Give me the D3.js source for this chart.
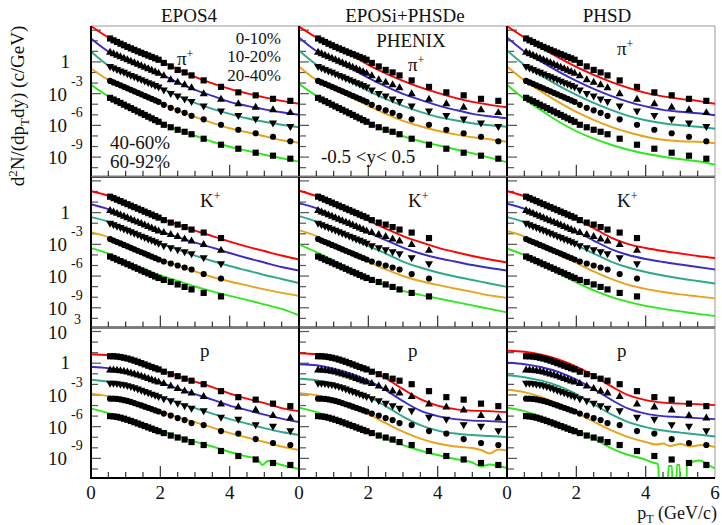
<!DOCTYPE html>
<html>
<head>
<meta charset="utf-8">
<script src="https://cdn.jsdelivr.net/npm/d3@7"></script>
<style>
  body { margin: 0; background: #fff; }
  text { font-family: "Liberation Serif", "Times New Roman", serif; font-size: 19px; fill: #111; }
</style>
</head>
<body>
<svg width="722" height="525"></svg>
<script>
// models (columns), particles (rows), centrality classes
var models = ["EPOS4", "EPOSi+PHSDe", "PHSD"];
var centralities = ["0-10%", "10-20%", "20-40%", "40-60%", "60-92%"];
var colors = ["#ff0000", "#3a2cc8", "#2ea88a", "#e9a21a", "#2ee81c"];

// PHENIX data, pT bins
var ptPi = [0.55, 0.65, 0.75, 0.85, 0.95, 1.05, 1.15, 1.25, 1.35, 1.45, 1.55, 1.65, 1.75, 1.85, 1.95,
            2.1, 2.3, 2.5, 2.7, 2.9, 3.25, 3.75, 4.25, 4.75, 5.25, 5.75];
var ptK = [0.55, 0.65, 0.75, 0.85, 0.95, 1.05, 1.15, 1.25, 1.35, 1.45, 1.55, 1.65, 1.75, 1.85, 1.95,
           2.1, 2.3, 2.5, 2.7, 2.9, 3.25, 3.75];
var ptP = ptPi;

var piData = [
  [165, 111, 77, 53, 37.6, 26.6, 19.2, 13.9, 10, 7.38, 5.44, 4.02, 2.96, 2.19, 1.61, 0.805, 0.376, 0.176, 0.102, 0.0532, 0.018, 4.39e-3, 1.33e-3, 6.92e-4, 3.23e-4, 2.09e-4],
  [7.87, 5.69, 4.10, 2.96, 2.14, 1.55, 1.11, 0.805, 0.581, 0.420, 0.303, 0.219, 0.158, 0.114, 0.0822, 0.0478, 0.0200, 0.0116, 6.76e-3, 3.52e-3, 9.57e-4, 2.90e-4, 1.09e-4, 5.11e-5, 2.96e-5, 1.55e-5],
  [0.376, 0.272, 0.200, 0.145, 0.107, 0.0771, 0.0556, 0.0410, 0.0296, 0.0219, 0.0158, 0.0114, 8.41e-3, 6.07e-3, 4.39e-3, 2.28e-3, 1.07e-3, 6.19e-4, 3.23e-4, 1.88e-4, 7.06e-5, 2.38e-5, 8.97e-6, 4.20e-6, 1.76e-6, 8.22e-7],
  [0.0161, 0.0116, 8.41e-3, 6.07e-3, 4.39e-3, 3.16e-3, 2.28e-3, 1.65e-3, 1.19e-3, 8.59e-4, 6.19e-4, 4.48e-4, 3.23e-4, 2.33e-4, 1.68e-4, 8.77e-5, 4.57e-5, 2.66e-5, 1.55e-5, 8.05e-6, 3.76e-6, 1.14e-6, 3.85e-7, 1.80e-7, 8.41e-8, 3.16e-8],
  [4.02e-4, 2.77e-4, 1.92e-4, 1.33e-4, 8.97e-5, 6.19e-5, 4.28e-5, 2.96e-5, 2.05e-5, 1.42e-5, 9.79e-6, 6.62e-6, 4.57e-6, 3.16e-6, 2.19e-6, 1.14e-6, 6.62e-7, 3.85e-7, 2.49e-7, 1.45e-7, 5.45e-8, 1.48e-8, 6.19e-9, 2.60e-9, 1.36e-9, 7.06e-10]
];
var kData = [
  [32.3, 23.3, 16.8, 12.2, 8.77, 6.34, 4.57, 3.30, 2.38, 1.72, 1.24, 0.897, 0.647, 0.468, 0.337, 0.196, 0.114, 0.0738, 0.0429, 0.0249, 0.0130, 3.93e-3],
  [1.55, 1.11, 0.822, 0.594, 0.429, 0.316, 0.228, 0.168, 0.122, 0.0897, 0.0647, 0.0468, 0.0345, 0.0249, 0.0180, 0.0130, 8.41e-3, 5.45e-3, 3.16e-3, 2.05e-3, 9.57e-4, 2.60e-4],
  [0.102, 0.0753, 0.0545, 0.0402, 0.0296, 0.0219, 0.0158, 0.0116, 8.59e-3, 6.19e-3, 4.57e-3, 3.37e-3, 2.49e-3, 1.80e-3, 1.33e-3, 7.71e-4, 4.99e-4, 3.23e-4, 2.09e-4, 1.36e-4, 5.69e-5, 1.55e-5],
  [3.16e-3, 2.28e-3, 1.68e-3, 1.22e-3, 8.77e-4, 6.47e-4, 4.68e-4, 3.37e-4, 2.49e-4, 1.80e-4, 1.33e-4, 9.57e-5, 6.92e-5, 5.11e-5, 3.68e-5, 2.38e-5, 1.55e-5, 1.0e-5, 6.47e-6, 4.20e-6, 1.58e-6, 5.94e-7],
  [7.06e-5, 5.11e-5, 3.61e-5, 2.60e-5, 1.88e-5, 1.33e-5, 9.57e-6, 6.76e-6, 4.89e-6, 3.45e-6, 2.49e-6, 1.80e-6, 1.27e-6, 9.16e-7, 6.62e-7, 4.29e-7, 2.77e-7, 1.61e-7, 9.38e-8, 5.45e-8, 2.55e-8, 1.19e-8]
];
var pData = [
  [4.57, 4.57, 4.29, 3.85, 3.30, 2.77, 2.23, 1.76, 1.36, 1.02, 0.771, 0.581, 0.439, 0.337, 0.260, 0.158, 0.0917, 0.0594, 0.0345, 0.0223, 0.0104, 2.28e-3, 6.19e-4, 3.61e-4, 1.51e-4, 8.77e-5],
  [0.219, 0.219, 0.209, 0.192, 0.168, 0.142, 0.116, 0.0938, 0.0738, 0.0581, 0.0448, 0.0345, 0.0266, 0.0205, 0.0161, 0.0116, 6.76e-3, 3.93e-3, 2.28e-3, 1.48e-3, 6.92e-4, 1.36e-4, 7.06e-5, 3.68e-5, 1.11e-5, 6.47e-6],
  [0.0130, 0.0130, 0.0122, 0.0109, 9.38e-3, 7.87e-3, 6.34e-3, 4.99e-3, 3.85e-3, 2.90e-3, 2.19e-3, 1.65e-3, 1.24e-3, 9.57e-4, 7.21e-4, 4.48e-4, 2.90e-4, 1.68e-4, 9.79e-5, 5.69e-5, 3.30e-5, 8.05e-6, 5.21e-6, 1.58e-6, 1.14e-6, 4.29e-7],
  [4.48e-4, 4.48e-4, 4.20e-4, 3.76e-4, 3.23e-4, 2.72e-4, 2.19e-4, 1.72e-4, 1.33e-4, 1.02e-4, 7.87e-5, 6.07e-5, 4.57e-5, 3.52e-5, 2.72e-5, 1.72e-5, 1.11e-5, 6.47e-6, 4.20e-6, 2.19e-6, 1.42e-6, 3.85e-7, 2.23e-7, 6.76e-8, 2.84e-8, 1.84e-8],
  [1.0e-5, 9.38e-6, 8.41e-6, 7.06e-6, 5.69e-6, 4.48e-6, 3.45e-6, 2.66e-6, 2.00e-6, 1.51e-6, 1.14e-6, 8.59e-7, 6.47e-7, 4.89e-7, 3.68e-7, 2.49e-7, 1.45e-7, 9.38e-8, 6.07e-8, 3.52e-8, 1.84e-8, 4.99e-9, 1.68e-9, 7.87e-10, 3.68e-10, 2.38e-10]
];

// model curves, pT grids
var ptGrid = [0, 0.5, 1, 1.5, 2, 2.5, 3, 3.5, 4, 4.5, 5, 5.5, 6];
var ptGridA = [0, 0.5, 1, 1.5, 2, 2.5, 3, 3.5, 4, 4.5, 4.8, 4.95, 5.1, 5.5, 6];
var ptGridB = [0, 0.5, 1, 1.5, 2, 2.5, 3, 3.5, 4, 4.5, 5, 5.25, 5.5, 5.75, 6];
var ptGridC = [0, 0.5, 1, 1.5, 2, 2.5, 3, 3.5, 4, 4.3, 4.5, 4.7, 5, 5.3, 5.6, 6];
var ptGridD = [0, 0.5, 1, 1.5, 2, 2.5, 3, 3.5, 3.9, 4.2, 4.36, 4.4, 4.62, 4.66, 4.76, 4.78, 4.88, 4.9, 4.98, 5.0, 5.17, 5.19, 5.38, 5.57, 5.76, 6];

var piEPOS4 = [
  [2400, 205, 32.3, 7.06, 1.24, 0.196, 0.0385, 9.38e-3, 2.84e-3, 1.07e-3, 4.48e-4, 2.09e-4, 1.09e-4],
  [165, 9.79, 1.72, 0.376, 0.0738, 0.0116, 2.28e-3, 6.19e-4, 1.68e-4, 7.06e-5, 3.30e-5, 1.72e-5, 1.0e-5],
  [9.79, 0.468, 0.0917, 0.0200, 3.93e-3, 6.19e-4, 1.36e-4, 3.68e-5, 1.24e-5, 4.68e-6, 2.19e-6, 1.14e-6, 6.62e-7],
  [0.244, 0.0200, 3.52e-3, 7.71e-4, 1.51e-4, 2.66e-5, 6.47e-6, 1.76e-6, 5.32e-7, 2.23e-7, 9.38e-8, 3.93e-8, 2.28e-8],
  [6.76e-3, 5.56e-4, 7.06e-5, 1.24e-5, 1.96e-6, 3.85e-7, 1.04e-7, 2.84e-8, 9.57e-9, 4.02e-9, 1.68e-9, 7.87e-10, 3.68e-10]
];
var piEPOSi = [
  [2230, 205, 29.0, 4.57, 0.521, 0.0822, 0.0161, 3.93e-3, 1.19e-3, 4.02e-4, 1.68e-4, 8.77e-5, 5.11e-5],
  [205, 10.9, 1.55, 0.244, 0.0310, 4.89e-3, 9.57e-4, 2.60e-4, 7.87e-5, 2.96e-5, 1.24e-5, 7.21e-6, 4.68e-6],
  [12.2, 0.581, 0.0822, 0.0130, 1.84e-3, 3.23e-4, 7.06e-5, 1.92e-5, 6.47e-6, 3.03e-6, 1.58e-6, 1.02e-6, 7.38e-7],
  [0.376, 0.0200, 2.84e-3, 4.48e-4, 7.06e-5, 1.24e-5, 2.72e-6, 8.22e-7, 3.10e-7, 1.45e-7, 7.53e-8, 4.89e-8, 2.84e-8],
  [8.41e-3, 6.19e-4, 7.06e-5, 1.11e-5, 1.76e-6, 3.45e-7, 9.38e-8, 3.16e-8, 1.33e-8, 5.56e-9, 2.33e-9, 8.77e-10, 3.30e-10]
];
var piPHSD = [
  [2400, 205, 20.9, 2.38, 0.337, 0.0594, 0.0130, 3.52e-3, 1.19e-3, 5.56e-4, 3.23e-4, 2.09e-4, 1.09e-4],
  [205, 9.79, 1.0, 0.114, 0.0161, 2.84e-3, 6.19e-4, 1.68e-4, 6.34e-5, 2.96e-5, 1.92e-5, 1.39e-5, 8.97e-6],
  [12.2, 0.521, 0.0478, 5.45e-3, 7.71e-4, 1.36e-4, 2.96e-5, 8.05e-6, 3.03e-6, 1.58e-6, 1.02e-6, 7.38e-7, 4.78e-7],
  [0.376, 0.0180, 1.48e-3, 1.51e-4, 1.92e-5, 3.37e-6, 7.38e-7, 2.23e-7, 8.41e-8, 4.39e-8, 3.16e-8, 2.84e-8, 2.05e-8],
  [6.76e-3, 3.23e-4, 2.38e-5, 2.19e-6, 2.77e-7, 5.45e-8, 1.48e-8, 4.99e-9, 2.09e-9, 1.09e-9, 6.34e-10, 4.10e-10, 1.92e-10]
];

var kEPOS4 = [
  [107, 40.2, 7.87, 1.55, 0.303, 0.0738, 0.0200, 6.07e-3, 1.84e-3, 6.19e-4, 2.33e-4, 8.77e-5, 3.68e-5],
  [6.34, 2.14, 0.420, 0.0822, 0.0180, 4.89e-3, 1.48e-3, 4.99e-4, 1.51e-4, 5.11e-5, 1.92e-5, 7.21e-6, 3.37e-6],
  [0.376, 0.142, 0.0310, 6.07e-3, 1.19e-3, 3.23e-4, 8.77e-5, 2.66e-5, 8.97e-6, 3.37e-6, 1.27e-6, 5.32e-7, 2.23e-7],
  [0.0145, 4.89e-3, 9.57e-4, 1.88e-4, 4.10e-5, 1.0e-5, 2.72e-6, 8.22e-7, 3.10e-7, 1.30e-7, 5.45e-8, 2.55e-8, 1.33e-8],
  [4.48e-4, 1.36e-4, 2.38e-5, 5.21e-6, 1.14e-6, 3.45e-7, 1.04e-7, 3.52e-8, 1.33e-8, 5.56e-9, 2.09e-9, 7.87e-10, 1.92e-10]
];
var kEPOSi = [
  [119, 36.1, 6.34, 1.11, 0.176, 0.0310, 6.07e-3, 1.65e-3, 4.99e-4, 1.88e-4, 7.87e-5, 3.68e-5, 1.92e-5],
  [7.87, 2.66, 0.468, 0.0738, 0.0130, 2.55e-3, 4.99e-4, 1.36e-4, 5.11e-5, 2.38e-5, 1.11e-5, 5.81e-6, 3.37e-6],
  [0.468, 0.142, 0.0249, 3.93e-3, 6.92e-4, 1.36e-4, 2.38e-5, 6.47e-6, 2.19e-6, 9.16e-7, 4.29e-7, 2.00e-7, 9.38e-8],
  [0.0223, 6.07e-3, 9.57e-4, 1.36e-4, 2.14e-5, 4.20e-6, 1.02e-6, 3.45e-7, 1.45e-7, 6.76e-8, 3.16e-8, 1.48e-8, 8.59e-9],
  [9.57e-4, 1.88e-4, 2.96e-5, 4.20e-6, 5.94e-7, 1.30e-7, 3.93e-8, 1.65e-8, 7.71e-9, 3.61e-9, 1.68e-9, 7.87e-10, 3.68e-10]
];
var kPHSD = [
  [107, 36.1, 7.06, 1.39, 0.244, 0.0345, 4.39e-3, 1.07e-3, 4.48e-4, 2.33e-4, 1.36e-4, 7.87e-5, 5.11e-5],
  [7.06, 2.38, 0.468, 0.0917, 0.0161, 2.28e-3, 3.61e-4, 9.79e-5, 4.10e-5, 2.14e-5, 1.24e-5, 7.21e-6, 4.20e-6],
  [0.376, 0.127, 0.0249, 4.89e-3, 8.59e-4, 1.36e-4, 2.38e-5, 6.47e-6, 2.44e-6, 1.14e-6, 5.94e-7, 3.45e-7, 2.00e-7],
  [0.0180, 5.45e-3, 7.71e-4, 1.09e-4, 1.72e-5, 2.72e-6, 5.32e-7, 1.45e-7, 6.07e-8, 3.16e-8, 1.84e-8, 1.19e-8, 7.71e-9],
  [4.02e-4, 9.79e-5, 1.39e-5, 1.76e-6, 2.49e-7, 4.39e-8, 1.07e-8, 3.61e-9, 1.51e-9, 7.87e-10, 4.57e-10, 2.66e-10, 1.72e-10]
];

var pEPOS4 = [
  [7.06, 5.69, 2.96, 1.11, 0.244, 0.0594, 0.0180, 5.45e-3, 1.33e-3, 4.48e-4, 1.68e-4, 5.69e-5, 2.96e-5],
  [0.468, 0.337, 0.176, 0.0662, 0.0161, 3.93e-3, 1.19e-3, 3.61e-4, 9.79e-5, 3.68e-5, 1.39e-5, 5.81e-6, 2.72e-6],
  [0.0277, 0.0180, 8.41e-3, 2.84e-3, 6.92e-4, 1.88e-4, 5.69e-5, 1.72e-5, 5.21e-6, 1.96e-6, 7.38e-7, 3.10e-7, 1.61e-7],
  [1.33e-3, 7.71e-4, 3.23e-4, 1.09e-4, 2.96e-5, 8.05e-6, 2.72e-6, 8.22e-7, 2.49e-7, 9.38e-8, 3.52e-8, 1.33e-8, 6.19e-9],
  [5.11e-5, 1.92e-5, 6.47e-6, 1.96e-6, 4.78e-7, 1.30e-7, 3.93e-8, 1.33e-8, 4.02e-9, 1.51e-9, 8.77e-10, 2.38e-10, 5.69e-10, 2.38e-10, 1.0e-10]
];
var pEPOSi = [
  [8.77, 7.06, 3.68, 1.24, 0.272, 0.0385, 3.52e-3, 4.02e-4, 9.79e-5, 4.57e-5, 3.30e-5, 2.96e-5, 2.38e-5],
  [0.805, 0.647, 0.303, 0.102, 0.0223, 2.84e-3, 2.60e-4, 3.30e-5, 1.0e-5, 5.21e-6, 3.76e-6, 3.37e-6, 2.72e-6],
  [0.0345, 0.0249, 0.0104, 3.16e-3, 6.92e-4, 8.77e-5, 8.97e-6, 1.42e-6, 4.29e-7, 2.23e-7, 1.61e-7, 1.30e-7, 1.04e-7],
  [1.48e-3, 9.57e-4, 3.23e-4, 7.87e-5, 1.55e-5, 2.19e-6, 3.45e-7, 7.53e-8, 2.55e-8, 1.33e-8, 9.57e-9, 6.19e-9, 2.90e-9, 6.92e-9, 5.56e-9],
  [6.34e-5, 2.38e-5, 6.47e-6, 1.58e-6, 3.45e-7, 7.53e-8, 1.84e-8, 5.56e-9, 2.09e-9, 8.77e-10, 4.10e-10, 1.72e-10, 2.66e-10, 1.92e-10, 1.24e-10]
];
var pPHSD = [
  [15.1, 12.2, 6.34, 2.14, 0.468, 0.0662, 6.76e-3, 9.57e-4, 3.23e-4, 1.88e-4, 1.51e-4, 1.36e-4, 1.09e-4],
  [1.11, 0.805, 0.420, 0.142, 0.0277, 3.52e-3, 3.61e-4, 5.11e-5, 1.72e-5, 1.0e-5, 8.05e-6, 6.47e-6, 5.21e-6],
  [0.0738, 0.0478, 0.0223, 6.76e-3, 1.19e-3, 1.36e-4, 1.55e-5, 2.72e-6, 9.16e-7, 4.29e-7, 2.77e-7, 1.80e-7, 1.16e-7],
  [3.16e-3, 1.84e-3, 6.19e-4, 1.36e-4, 2.14e-5, 3.03e-6, 4.78e-7, 1.04e-7, 3.52e-8, 2.05e-8, 2.55e-8, 1.48e-8, 2.28e-8, 1.33e-8, 1.84e-8, 1.19e-8],
  // drops to 1e-13 where the model gives no yield
  [6.34e-5, 2.96e-5, 8.97e-6, 2.19e-6, 4.78e-7, 7.53e-8, 9.57e-9, 2.09e-9, 9.79e-10, 4.10e-10, 2.96e-10, 1e-13, 1e-13, 1.92e-10, 1.92e-10, 1e-13, 1e-13, 2.38e-10, 2.38e-10, 1e-13, 1e-13, 1.92e-10, 5.11e-10, 6.34e-10, 2.96e-10, 1.11e-10]
];

var pEPOS4Pt = [ptGrid, ptGrid, ptGrid, ptGrid, ptGridA];
var pEPOSiPt = [ptGrid, ptGrid, ptGrid, ptGridB, ptGridB];
var pPHSDPt = [ptGrid, ptGrid, ptGrid, ptGridC, ptGridD];
var gridPt = [ptGrid, ptGrid, ptGrid, ptGrid, ptGrid];

var rows = [
  { pt: ptPi, data: piData, curves: [piEPOS4, piEPOSi, piPHSD], grids: [gridPt, gridPt, gridPt] },
  { pt: ptK, data: kData, curves: [kEPOS4, kEPOSi, kPHSD], grids: [gridPt, gridPt, gridPt] },
  { pt: ptP, data: pData, curves: [pEPOS4, pEPOSi, pPHSD], grids: [pEPOS4Pt, pEPOSiPt, pPHSDPt] }
];

// layout
var svg = d3.select("svg");
var colLeft = [91, 299, 507], colW = 208;
var rowTop = [26, 176.7, 327.3], rowH = 150.7;

var x = d3.scaleLinear().domain([0, 6]).range([0, colW]);
var y = d3.scaleLog().domain([1.4e-11, 2.5e3]).range([rowH, 0]);

var line = d3.line()
    .x(function (d) { return x(d[0]); })
    .y(function (d) { return y(d[1]); })
    .curve(d3.curveMonotoneX);

var symbols = [d3.symbolSquare, d3.symbolTriangle, d3.symbolTriangle, d3.symbolCircle, d3.symbolSquare];
var symSize = [38, 28, 28, 30, 38];

var defs = svg.append("defs");
defs.append("clipPath").attr("id", "clip")
    .append("rect").attr("x", 0).attr("y", 0).attr("width", colW).attr("height", rowH);

var yTicks = d3.range(-10, 4);
var xTicks = d3.range(0.5, 6, 0.5);

rows.forEach(function (row, i) {
    models.forEach(function (m, j) {
        var g = svg.append("g")
            .attr("transform", "translate(" + colLeft[j] + "," + rowTop[i] + ")");

        // top and right frame
        g.append("path")
            .attr("d", "M0,0H" + colW + "V" + rowH)
            .attr("fill", "none").attr("stroke", "#999").attr("stroke-width", 1);

        // y ticks, every decade
        g.selectAll(".yt").data(yTicks).enter().append("line")
            .attr("x1", 0)
            .attr("x2", function (e) { return e % 3 === 0 ? 10 : 7; })
            .attr("y1", function (e) { return y(Math.pow(10, e)); })
            .attr("y2", function (e) { return y(Math.pow(10, e)); })
            .attr("stroke", "#555").attr("stroke-width", 1.2);

        // x ticks
        g.selectAll(".xt").data(xTicks).enter().append("line")
            .attr("x1", function (d) { return x(d); })
            .attr("x2", function (d) { return x(d); })
            .attr("y1", rowH)
            .attr("y2", function (d) { return d % 2 === 0 ? rowH - 12 : rowH - 6; })
            .attr("stroke", "#333").attr("stroke-width", 1.2);

        // model curves
        var cg = g.append("g").attr("clip-path", "url(#clip)");
        row.curves[j].forEach(function (vals, c) {
            var pts = row.grids[j][c].map(function (p, k) { return [p, vals[k]]; });
            cg.append("path")
                .attr("d", line(pts))
                .attr("fill", "none")
                .attr("stroke", colors[c])
                .attr("stroke-width", 1.9);
        });

        // PHENIX points
        row.data.forEach(function (vals, c) {
            g.selectAll(".pt" + c).data(vals).enter().append("path")
                .attr("d", d3.symbol().type(symbols[c]).size(symSize[c]))
                .attr("transform", function (v, k) {
                    return "translate(" + x(row.pt[k]) + "," + y(v) + ")" + (c === 2 ? " rotate(180)" : "");
                })
                .attr("fill", "#000");
        });

        // left and bottom axis lines
        g.append("path")
            .attr("d", "M0,0V" + rowH + "H" + colW)
            .attr("fill", "none").attr("stroke", "#000").attr("stroke-width", 2);
    });
});

// y tick labels (left column)
function yLabel(e, row) {
    var ty = rowTop[row] + y(Math.pow(10, e));
    if (e === 0) {
        svg.append("text").attr("x", 70).attr("y", ty + 6).attr("text-anchor", "end").text("1");
    } else {
        svg.append("text").attr("x", 67).attr("y", ty + 7).attr("text-anchor", "end").text("10");
        svg.append("text").attr("x", e > 0 ? 74 : 71).attr("y", ty - 8).style("font-size", "14px").text(e);
    }
}
[0, 1, 2].forEach(function (r) {
    [0, -3, -6, -9].forEach(function (e) { yLabel(e, r); });
});
yLabel(3, 2);

// x tick labels (bottom row)
var xLabelBase = rowTop[2] + rowH + 21;
colLeft.forEach(function (cl, j) {
    var vals = j === 2 ? [0, 2, 4, 6] : [0, 2, 4];
    vals.forEach(function (v) {
        svg.append("text").attr("x", cl + x(v)).attr("y", xLabelBase)
            .attr("text-anchor", "middle").text(v);
    });
});

// column titles
var titleX = [189, 405, 607];
models.forEach(function (m, j) {
    svg.append("text").attr("x", titleX[j]).attr("y", 22).attr("text-anchor", "middle").text(m);
});

// particle labels with superscript
function particle(px, py, base, sup) {
    var t = svg.append("text").attr("x", px).attr("y", py);
    t.append("tspan").text(base);
    if (sup) t.append("tspan").attr("dy", -7).style("font-size", "12px").text(sup);
}
particle(177, 65, "\u03c0", "+");
particle(408, 71, "\u03c0", "+");
particle(617, 55, "\u03c0", "+");
[200, 408, 617].forEach(function (px) { particle(px, 207, "K", "+"); });
[200, 408, 617].forEach(function (px) { particle(px, 357, "p"); });

// centrality legend and notes
var legendRight = [[0, 43.5], [1, 62], [2, 80.5]];
legendRight.forEach(function (d) {
    svg.append("text").attr("x", 281).attr("y", d[1]).attr("text-anchor", "end")
        .style("font-size", "17px").text(centralities[d[0]]);
});
svg.append("text").attr("x", 110).attr("y", 149).text(centralities[3]);
svg.append("text").attr("x", 110).attr("y", 168).text(centralities[4]);
svg.append("text").attr("x", 411).attr("y", 47).attr("text-anchor", "middle").text("PHENIX");
svg.append("text").attr("x", 321).attr("y", 163).text("-0.5 <y< 0.5");

// axis titles
var yt = svg.append("text")
    .attr("transform", "translate(24,106) rotate(-90)")
    .attr("text-anchor", "middle");
yt.append("tspan").text("d");
yt.append("tspan").attr("dy", -7).style("font-size", "13px").text("2");
yt.append("tspan").attr("dy", 7).text("N/(dp");
yt.append("tspan").attr("dy", 5).style("font-size", "13px").text("T");
yt.append("tspan").attr("dy", -5).text("dy) (c/GeV)");

var xt = svg.append("text").attr("x", 717).attr("y", 519).attr("text-anchor", "end")
    .style("font-size", "18px");
xt.append("tspan").text("p");
xt.append("tspan").attr("dy", 4).style("font-size", "12px").text("T");
xt.append("tspan").attr("dy", -4).text(" (GeV/c)");
</script>
</body>
</html>
